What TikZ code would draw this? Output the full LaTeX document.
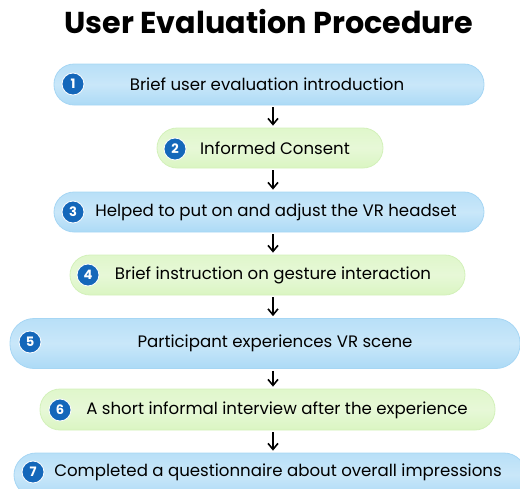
\documentclass[tikz,border=0pt]{standalone}
\usepackage{fontspec}
\setmainfont{Poppins}
\usetikzlibrary{arrows.meta}
\definecolor{stepblue}{HTML}{ACDAF6}
\definecolor{stepblueedge}{HTML}{A6D6F4}
\definecolor{stepgreen}{HTML}{DAF5C2}
\definecolor{stepgreenedge}{HTML}{D3F1BA}
\definecolor{badge}{HTML}{1467BA}
\tikzset{
  bluebox/.style={rounded corners=20pt, draw=stepblueedge, line width=0.8pt,
    top color=stepblue!85!white, bottom color=stepblue, middle color=stepblue!65!white},
  greenbox/.style={rounded corners=20pt, draw=stepgreenedge, line width=0.8pt,
    top color=stepgreen!85!white, bottom color=stepgreen, middle color=stepgreen!65!white},
  badgenode/.style={circle, fill=badge, draw=white, line width=0.8pt, minimum size=22pt,
    inner sep=0pt, text=white, font=\fontsize{13}{13}\selectfont\bfseries},
  steptext/.style={inner sep=0pt, anchor=center, font=\fontsize{16.6}{19}\selectfont},
  flowarrow/.style={-{Straight Barb[length=6pt,width=10pt]}, line width=1.6pt, black,
    shorten <=2pt, shorten >=2pt},
}
\begin{document}
\begin{tikzpicture}[x=1pt,y=-1pt]
\useasboundingbox (0,0) rectangle (520,488);
\begin{scope}
\clip (0,0) rectangle (520,488);

% title
\node[font=\fontsize{30.2}{33}\selectfont\bfseries] (title) at (269,22) {User Evaluation Procedure};

% step boxes
\node[bluebox, minimum width=430pt, minimum height=41pt] (b1) at (269,84.5) {};
\node[greenbox, minimum width=226pt, minimum height=40pt] (b2) at (270,148) {};
\node[bluebox, minimum width=430pt, minimum height=40pt] (b3) at (269,212) {};
\node[greenbox, minimum width=395pt, minimum height=40pt] (b4) at (267.5,275) {};
\node[bluebox, minimum width=510pt, minimum height=50pt, rounded corners=24pt] (b5) at (265,343.5) {};
\node[greenbox, minimum width=455pt, minimum height=41pt] (b6) at (267.5,409.5) {};
\node[bluebox, minimum width=512pt, minimum height=44pt, rounded corners=22pt] (b7) at (270,475) {};

% badges
\node[badgenode] (n1) at (73,84) {1};
\node[badgenode] (n2) at (175,149) {2};
\node[badgenode] (n3) at (73,212) {3};
\node[badgenode] (n4) at (88,275) {4};
\node[badgenode] (n5) at (30,342) {5};
\node[badgenode] (n6) at (60,410) {6};
\node[badgenode] (n7) at (33,472) {7};

% step texts
\node[steptext] (t1) at (267,84) {Brief user evaluation introduction};
\node[steptext] (t2) at (275,148) {Informed Consent};
\node[steptext] (t3) at (276,212) {Helped to put on and adjust the VR headset};
\node[steptext] (t4) at (273,275) {Brief instruction on gesture interaction};
\node[steptext] (t5) at (275,343) {Participant experiences VR scene};
\node[steptext] (t6) at (277,410) {A short informal interview after the experience};
\node[steptext] (t7) at (278,472) {Completed a questionnaire about overall impressions};
\end{scope}

% connectors
\coordinate (ax) at (273,0);
\draw[flowarrow] (b1.south -| ax) -- (b2.north -| ax);
\draw[flowarrow] (b2.south -| ax) -- (b3.north -| ax);
\draw[flowarrow] (b3.south -| ax) -- (b4.north -| ax);
\draw[flowarrow] (b4.south -| ax) -- (b5.north -| ax);
\draw[flowarrow] (b5.south -| ax) -- (b6.north -| ax);
\draw[flowarrow] (b6.south -| ax) -- (b7.north -| ax);
\end{tikzpicture}
\end{document}
